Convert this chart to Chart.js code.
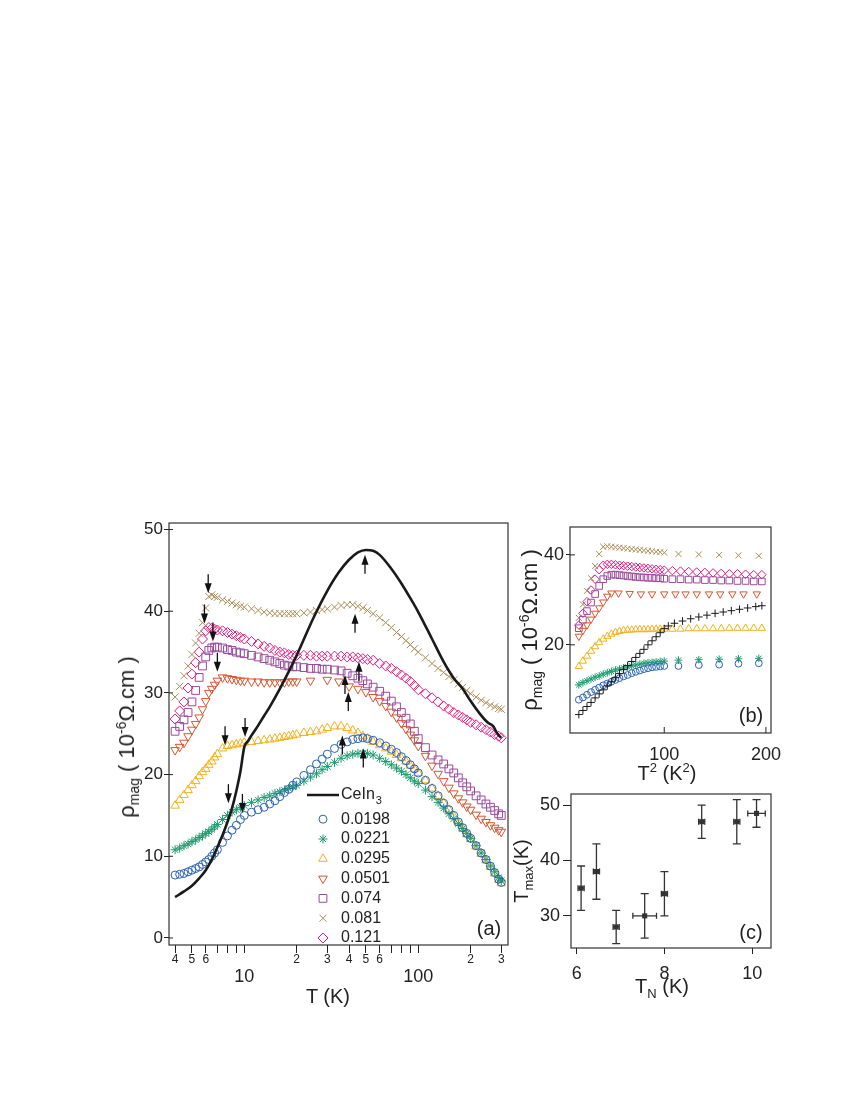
<!DOCTYPE html>
<html>
<head>
<meta charset="utf-8">
<script src="https://cdn.jsdelivr.net/npm/chart.js@4.4.1/dist/chart.umd.min.js"></script>
<style>
  body { margin: 0; width: 850px; height: 1100px; background: #fff; position: relative;
         font-family: "Liberation Sans", Arial, Helvetica, sans-serif; color: #222; }
  canvas { position: absolute; }
  .lbl { position: absolute; font-size: 20px; line-height: 1; white-space: nowrap; }
  .ctr { transform: translate(-50%, -50%); }
  .rot { transform: translate(-50%, -50%) rotate(-90deg); }
  sub, sup { font-size: 13px; line-height: 0; }
  .big { font-size: 22px; }
  .big sub, .big sup { font-size: 14px; }
</style>
</head>
<body>
<canvas id="chartA" width="430" height="520" style="left:90px;top:505px"></canvas>
<canvas id="chartB" width="262" height="255" style="left:520px;top:515px"></canvas>
<canvas id="chartC" width="262" height="230" style="left:520px;top:786px"></canvas>

<div class="lbl rot big" style="left:127px;top:737px">ρ<sub>mag</sub> ( 10<sup>-6</sup>Ω.cm )</div>
<div class="lbl ctr" style="left:328px;top:996px">T (K)</div>
<div class="lbl ctr" style="left:489px;top:928px">(a)</div>

<div class="lbl rot big" style="left:530px;top:630px">ρ<sub>mag</sub> ( 10<sup>-6</sup>Ω.cm )</div>
<div class="lbl ctr" style="left:667px;top:773px">T<sup>2</sup> (K<sup>2</sup>)</div>
<div class="lbl ctr" style="left:751px;top:715px">(b)</div>

<div class="lbl rot" style="left:521px;top:871px">T<sub>max</sub>(K)</div>
<div class="lbl ctr" style="left:662px;top:986px">T<sub>N</sub> (K)</div>
<div class="lbl ctr" style="left:751px;top:932px">(c)</div>

<script>
// ---- panel (a): rho_mag vs T (log axis) ----
const aT = [4, 4.25, 4.5, 4.75, 5, 5.25, 5.5, 5.75, 6, 6.25, 6.5, 6.75,
  7, 7.5, 8, 8.5, 9, 9.5, 10, 11, 12, 13, 14, 15, 16, 17, 18, 19, 20,
  22, 24, 26, 28, 30, 33, 36, 39, 42, 45, 48, 51,
  55, 60, 65, 70, 75, 80, 85, 90, 95, 100,
  110, 120, 130, 140, 150, 160, 170, 180, 190, 200,
  215, 230, 245, 260, 275, 290, 300];

const rho0198 = [7.7, 7.8, 7.9, 8.1, 8.3, 8.5, 8.7, 9.0, 9.3, 9.6, 10.0, 10.4,
  10.8, 11.7, 12.5, 13.2, 13.8, 14.5, 15.0, 15.4, 15.7, 16.0, 16.4, 16.8, 17.3, 17.8, 18.2, 18.7, 19.1,
  19.9, 20.6, 21.3, 21.9, 22.5, 23.2, 23.7, 24.0, 24.3, 24.4, 24.5, 24.4,
  24.2, 23.9, 23.5, 23.1, 22.7, 22.2, 21.7, 21.2, 20.7, 20.2,
  19.3, 18.3, 17.4, 16.5, 15.7, 15.0, 14.2, 13.5, 12.8, 12.2,
  11.3, 10.4, 9.6, 8.8, 8.0, 7.2, 6.8];

const rho0221 = [10.8, 11.0, 11.3, 11.5, 11.8, 12.0, 12.3, 12.5, 12.8, 13.0, 13.3, 13.6,
  13.9, 14.5, 15.0, 15.4, 15.7, 16.0, 16.2, 16.6, 16.9, 17.2, 17.4, 17.7, 17.9, 18.1, 18.3, 18.5, 18.7,
  19.2, 19.7, 20.1, 20.6, 21.0, 21.5, 22.0, 22.3, 22.5, 22.6, 22.6, 22.6,
  22.4, 22.0, 21.6, 21.2, 20.8, 20.4, 20.0, 19.6, 19.2, 18.9,
  18.1, 17.3, 16.6, 15.9, 15.2, 14.6, 14.0, 13.4, 12.8, 12.2,
  11.3, 10.4, 9.6, 8.8, 8.1, 7.4, 7.0];

const rho0295 = [16.2, 16.9, 17.5, 18.1, 18.7, 19.2, 19.8, 20.3, 20.7, 21.2, 21.6, 22.1,
  22.5, 23.2, 23.5, 23.6, 23.7, 23.8, 23.9, 24.0, 24.1, 24.2, 24.3, 24.4, 24.5, 24.6, 24.7, 24.8, 24.9,
  25.1, 25.2, 25.3, 25.5, 25.7, 25.9, 25.9, 25.7, 25.4, 25.1, 24.7, 24.4,
  24.0, 23.6, 23.2, 22.8, 22.4, 22.0, 21.6, 21.1, 20.7, 20.2,
  19.3, 18.3, 17.4, 16.5, 15.7, 14.9, 14.1, 13.4, 12.7, 12.1,
  11.2, 10.3, 9.5, 8.7, 7.9, 7.1, 6.7];

const tRed = [4, 4.25, 4.5, 4.75, 5, 5.25, 5.5, 5.75, 6, 6.25, 6.5, 6.75,
  7, 7.5, 8, 8.5, 9, 9.5, 10, 11, 12, 13, 14, 15, 16, 17, 18, 19, 20,
  24, 30, 35, 40, 45, 50,
  55, 60, 65, 70, 75, 80, 85, 90, 95, 100,
  110, 120, 130, 140, 150, 160, 170, 180, 190, 200,
  215, 230, 245, 260, 275, 290, 300];
const rho0501 = [23.0, 23.4, 23.9, 24.7, 25.5, 26.2, 27.0, 28.0, 29.0, 30.0, 30.5, 31.0,
  31.5, 31.9, 31.8, 31.7, 31.6, 31.5, 31.5, 31.4, 31.4, 31.3, 31.3, 31.3, 31.3, 31.3, 31.4, 31.4, 31.4,
  31.5, 31.6, 31.4, 30.8, 30.5, 30.1,
  29.5, 29.0, 28.4, 27.7, 27.0, 26.3, 25.6, 24.9, 24.2, 23.5,
  22.3, 21.1, 20.1, 19.2, 18.4, 17.7, 17.1, 16.6, 16.1, 15.7,
  15.1, 14.6, 14.2, 13.8, 13.5, 13.2, 13.0];

const rho074 = [25.3, 25.9, 26.7, 27.6, 28.9, 30.3, 31.9, 33.3, 34.4, 35.2, 35.5, 35.6,
  35.6, 35.5, 35.3, 35.2, 35.0, 34.9, 34.8, 34.6, 34.4, 34.2, 34.0, 33.8, 33.6, 33.4, 33.3, 33.2, 33.2,
  33.1, 33.0, 33.0, 32.9, 32.9, 32.8, 32.7, 32.4, 32.1, 31.8, 31.5, 31.1,
  30.7, 30.2, 29.6, 29.0, 28.3, 27.6, 26.9, 26.2, 25.3, 24.4,
  23.3, 22.4, 21.8, 21.3, 20.7, 20.2, 19.6, 19.0, 18.5, 18.0,
  17.4, 16.9, 16.4, 16.0, 15.6, 15.2, 15.0];

const rho081 = [29.5, 30.8, 32.1, 33.3, 34.7, 36.1, 37.3, 38.6, 40.4, 41.8, 42.0, 41.8,
  41.7, 41.4, 41.2, 41.0, 40.8, 40.6, 40.5, 40.3, 40.1, 39.9, 39.8, 39.7, 39.7, 39.7, 39.7, 39.7, 39.7,
  39.8, 39.9, 40.1, 40.2, 40.3, 40.5, 40.7, 40.8, 40.8, 40.6, 40.4, 40.1,
  39.7, 39.2, 38.6, 38.0, 37.4, 36.9, 36.4, 35.9, 35.4, 35.0,
  34.3, 33.6, 33.0, 32.5, 32.0, 31.6, 31.1, 30.7, 30.3, 29.9,
  29.5, 29.1, 28.8, 28.5, 28.3, 28.1, 28.0];

const rho121 = [26.8, 27.8, 28.9, 30.6, 32.3, 33.7, 35.0, 36.6, 37.6, 38.0, 37.9, 37.8,
  37.7, 37.6, 37.4, 37.2, 37.0, 36.8, 36.6, 36.3, 36.0, 35.7, 35.5, 35.2, 35.0, 34.9, 34.7, 34.6, 34.6,
  34.6, 34.6, 34.5, 34.5, 34.5, 34.5, 34.5, 34.4, 34.4, 34.3, 34.2, 34.1,
  34.0, 33.6, 33.3, 33.0, 32.6, 32.2, 31.8, 31.4, 30.9, 30.4,
  29.9, 29.4, 28.9, 28.4, 28.0, 27.6, 27.3, 27.0, 26.7, 26.4,
  26.1, 25.8, 25.5, 25.2, 24.9, 24.7, 24.5];

const tCeIn3 = [4, 4.5, 5, 5.5, 6, 6.5, 7, 7.5, 8, 8.5, 9, 9.5, 10, 10.5, 11, 12, 13, 14, 16, 18, 20,
  25, 30, 35, 40, 45, 50, 55, 60, 70, 80, 90, 100, 120, 140, 160, 180, 200, 225, 250, 270, 285, 300];
const rhoCeIn3 = [5.0, 5.7, 6.4, 7.3, 8.3, 9.6, 11.1, 12.6, 14.2, 15.9, 18.0, 20.4, 23.4, 24.1, 24.8, 26.0, 27.2, 28.3, 30.5, 32.6, 34.6,
  39.2, 42.5, 44.8, 46.3, 47.2, 47.5, 47.4, 46.9, 45.2, 43.4, 41.6, 39.9, 36.6, 33.8, 31.8, 30.5, 29.0, 27.5, 26.4, 25.9, 25.0, 24.5];

const legendNames = ['CeIn3', '0.0198', '0.0221', '0.0295', '0.0501', '0.074', '0.081', '0.121'];

// arrows: T_N (pointing down) and T_max (pointing up), tip positions in data units
const tnArrowT = [6.2, 5.9, 6.6, 7.0, 7.75, 10.1, 8.1, 9.75];
const tnArrowRho = [42.2, 38.5, 36.3, 32.6, 23.6, 24.6, 16.5, 15.3];
const tmaxArrowT = [49.4, 43.3, 45.6, 37.9, 39.6, 36.6, 48.3];
const tmaxArrowRho = [46.9, 39.7, 33.8, 32.2, 30.1, 24.8, 23.2];

const aXTicks = [4, 5, 6, 7, 8, 9, 10, 20, 30, 40, 50, 60, 70, 80, 90, 100, 200, 300];
const aXTickText = ['4', '5', '6', '', '', '', ['', '10'], '2', '3', '4', '5', '6', '', '', '', ['', '100'], '2', '3'];
const aYTicks = [0, 10, 20, 30, 40, 50];

// ---- panel (b): rho_mag vs T^2 ----
const bT2 = [16, 20, 24, 28, 32, 36, 40, 44, 48, 52, 56, 60, 64, 68, 72, 76, 80, 84, 88, 92, 96, 100];
const bT2Sparse = [114, 134, 154, 173, 193];
const bT2Tail = [108, 116, 124, 132, 140, 148, 156, 164, 172, 180, 188, 196];
const bT2Ce = [104, 110, 118, 126, 134, 142, 150, 158, 166, 174, 182, 190, 196];
const bT2Red = [16, 20, 24, 28, 32, 36, 40, 44, 48, 55, 66, 77, 88, 100, 111, 121, 132, 144, 155, 167, 178, 191];

const bCeIn3 = [4.5, 5.4, 6.3, 7.2, 8.2, 9.1, 10.0, 10.9, 11.8, 12.7, 13.6, 14.5, 15.4, 16.3, 17.2, 18.1, 19.0, 20.0, 20.9, 21.8, 22.7, 23.6,
  24.2, 24.8, 25.3, 25.8, 26.2, 26.6, 27.0, 27.3, 27.6, 27.9, 28.2, 28.5, 28.7];
const b0198 = [7.8, 8.3, 8.9, 9.5, 10.0, 10.5, 11.0, 11.4, 11.8, 12.2, 12.6, 13.0, 13.3, 13.7, 14.0, 14.3, 14.6, 14.8, 15.0, 15.1, 15.2, 15.3,
  15.3, 15.5, 15.6, 15.8, 15.9];
const b0221 = [11.1, 11.6, 12.0, 12.4, 12.8, 13.1, 13.5, 13.8, 14.1, 14.4, 14.6, 14.9, 15.1, 15.3, 15.5, 15.7, 15.9, 16.0, 16.1, 16.2, 16.3, 16.4,
  16.6, 16.7, 16.8, 16.9, 17.0];
const b0295 = [15.2, 16.4, 17.5, 18.6, 19.6, 20.5, 21.3, 21.9, 22.4, 22.8, 23.0, 23.2, 23.3, 23.3, 23.4, 23.4, 23.4, 23.4, 23.5, 23.5, 23.5, 23.5,
  23.5, 23.5, 23.6, 23.6, 23.6, 23.6, 23.6, 23.7, 23.7, 23.7, 23.7, 23.7];
const b0501 = [21.9, 23.2, 24.4, 25.7, 27.0, 28.2, 29.5, 30.8, 31.5,
  31.5, 31.4, 31.3, 31.3, 31.3, 31.3, 31.3, 31.3, 31.3, 31.3, 31.3, 31.3, 31.3];
const b074 = [23.7, 25.6, 27.5, 29.4, 31.3, 33.1, 34.6, 35.3, 35.6, 35.6, 35.5, 35.4, 35.3, 35.2, 35.1, 35.0, 35.0, 34.9, 34.9, 34.8, 34.8, 34.7,
  34.6, 34.6, 34.5, 34.5, 34.4, 34.4, 34.3, 34.3, 34.2, 34.2, 34.1, 34.1];
const b081 = [26.0, 29.0, 32.0, 34.8, 37.5, 40.2, 41.8, 41.9, 41.8, 41.7, 41.6, 41.5, 41.4, 41.3, 41.2, 41.1, 41.0, 40.9, 40.8, 40.7, 40.6, 40.5,
  40.2, 40.1, 40.0, 39.9, 39.8];
const b121 = [24.4, 27.0, 29.6, 32.2, 34.6, 36.7, 37.7, 37.9, 37.9, 37.8, 37.7, 37.6, 37.5, 37.4, 37.3, 37.2, 37.1, 37.0, 36.9, 36.8, 36.7, 36.6,
  36.5, 36.4, 36.3, 36.2, 36.1, 36.0, 35.9, 35.8, 35.8, 35.7, 35.6, 35.6];

const bXTicks = [100, 200];
const bYTicks = [20, 40];

// ---- panel (c): T_max vs T_N ----
const tN = [6.1, 6.45, 6.9, 7.55, 8.0, 8.85, 9.65, 10.1];
const tNErr = [0.07, 0.07, 0.07, 0.27, 0.07, 0.07, 0.07, 0.2];
const tMax = [35, 38, 28, 30, 34, 47, 47, 48.5];
const tMaxErr = [4, 5, 3, 4, 4, 3, 4, 2.5];
const cXTicks = [6, 8, 10];
const cYTicks = [30, 40, 50];

// ---- styles ----
const FONT = '"Liberation Sans", Arial, Helvetica, sans-serif';
const INK = '#222';
const styles = [
  { color: '#1a1a1a', style: 'line' },
  { color: '#2a62b3', style: 'circle', r: 4 },
  { color: '#1c9a6c', style: 'star', r: 4.5 },
  { color: '#f3b11e', style: 'triangle', r: 5 },
  { color: '#d8552e', style: 'triangle', r: 5, rot: 180 },
  { color: '#9b4a9d', style: 'rect', r: 5.5 },
  { color: '#a88c56', style: 'crossRot', r: 5 },
  { color: '#e51a80', style: 'rectRot', r: 5 }
];

const pts = (xs, ys) => xs.map((x, i) => ({ x: x, y: ys[i] }));

function markerSet(label, data, st, scale) {
  return {
    label: label, data: data, showLine: false,
    pointStyle: st.style, pointRotation: st.rot || 0,
    pointRadius: st.r * scale, pointBorderWidth: 1,
    pointBorderColor: st.color, pointBackgroundColor: 'rgba(0,0,0,0)',
    borderColor: st.color, backgroundColor: 'rgba(0,0,0,0)'
  };
}

// keep the plot area where it is: no extra room for overhanging tick labels
const fixX = h => s => { s.height = h; s.paddingLeft = 0; s.paddingRight = 0; };
const fixY = w => s => { s.width = w; s.paddingTop = 0; s.paddingBottom = 0; };

const framePlugin = {
  id: 'frame',
  afterDraw(chart) {
    const a = chart.chartArea, ctx = chart.ctx;
    ctx.save();
    ctx.strokeStyle = '#333';
    ctx.lineWidth = 1.2;
    ctx.strokeRect(a.left, a.top, a.right - a.left, a.bottom - a.top);
    ctx.restore();
  }
};

function innerTicks(xVals, xLen, yVals, yLen) {
  return {
    id: 'innerTicks',
    afterDraw(chart) {
      const { ctx, chartArea: a, scales } = chart;
      ctx.save();
      ctx.strokeStyle = INK;
      ctx.lineWidth = 1;
      ctx.beginPath();
      xVals.forEach(v => { const p = scales.x.getPixelForValue(v); ctx.moveTo(p, a.bottom); ctx.lineTo(p, a.bottom - xLen); });
      yVals.forEach(v => { const p = scales.y.getPixelForValue(v); ctx.moveTo(a.left, p); ctx.lineTo(a.left + yLen, p); });
      ctx.stroke();
      ctx.restore();
    }
  };
}

const arrowPlugin = {
  id: 'arrows',
  afterDatasetsDraw(chart) {
    const { ctx, scales } = chart;
    const draw = (t, v, dir) => {   // dir 1: pointing down, -1: pointing up
      const x = scales.x.getPixelForValue(t), tip = scales.y.getPixelForValue(v);
      ctx.beginPath();
      ctx.moveTo(x, tip - dir * 19);
      ctx.lineTo(x, tip - dir * 6);
      ctx.stroke();
      ctx.beginPath();
      ctx.moveTo(x, tip);
      ctx.lineTo(x - 3.5, tip - dir * 10);
      ctx.lineTo(x + 3.5, tip - dir * 10);
      ctx.closePath();
      ctx.fill();
    };
    ctx.save();
    ctx.strokeStyle = '#111';
    ctx.fillStyle = '#111';
    ctx.lineWidth = 1.3;
    tnArrowT.forEach((t, i) => draw(t, tnArrowRho[i], 1));
    tmaxArrowT.forEach((t, i) => draw(t, tmaxArrowRho[i], -1));
    ctx.restore();
  }
};

function drawMark(ctx, st, x, y) {
  const r = st.r;
  ctx.beginPath();
  if (st.style === 'circle') {
    ctx.arc(x, y, r, 0, Math.PI * 2);
  } else if (st.style === 'triangle') {
    const s = st.rot ? -1 : 1;
    ctx.moveTo(x, y - s * r);
    ctx.lineTo(x + r * 0.866, y + s * r * 0.5);
    ctx.lineTo(x - r * 0.866, y + s * r * 0.5);
    ctx.closePath();
  } else if (st.style === 'rect') {
    const h = r * 0.707;
    ctx.rect(x - h, y - h, 2 * h, 2 * h);
  } else if (st.style === 'rectRot') {
    ctx.moveTo(x, y - r); ctx.lineTo(x + r, y); ctx.lineTo(x, y + r); ctx.lineTo(x - r, y); ctx.closePath();
  } else if (st.style === 'crossRot' || st.style === 'star') {
    const h = r * 0.707;
    ctx.moveTo(x - h, y - h); ctx.lineTo(x + h, y + h);
    ctx.moveTo(x + h, y - h); ctx.lineTo(x - h, y + h);
    if (st.style === 'star') {
      ctx.moveTo(x - r, y); ctx.lineTo(x + r, y);
      ctx.moveTo(x, y - r); ctx.lineTo(x, y + r);
    }
  }
  ctx.stroke();
}

const legendPlugin = {
  id: 'legendA',
  afterDraw(chart) {
    const { ctx, chartArea: a } = chart;
    const markX = a.left + 154, textX = a.left + 172;
    ctx.save();
    ctx.textBaseline = 'middle';
    ctx.fillStyle = INK;
    legendNames.forEach((name, i) => {
      const y = i === 0 ? a.bottom - 150 : a.bottom - 7 - (7 - i) * 19.8;
      const st = styles[i];
      ctx.strokeStyle = st.color;
      if (st.style === 'line') {
        ctx.lineWidth = 2.5;
        ctx.beginPath(); ctx.moveTo(a.left + 138, y); ctx.lineTo(a.left + 170, y); ctx.stroke();
        ctx.font = '16px ' + FONT;
        ctx.fillText(name.slice(0, -1), textX, y);
        const w = ctx.measureText(name.slice(0, -1)).width;
        ctx.font = '11px ' + FONT;
        ctx.fillText(name.slice(-1), textX + w + 1, y + 6);
      } else {
        ctx.lineWidth = 1;
        drawMark(ctx, st, markX, y);
        ctx.font = '16px ' + FONT;
        ctx.fillText(name, textX, y);
      }
    });
    ctx.restore();
  }
};

const baseOpts = {
  responsive: false,
  animation: false,
  events: [],
  plugins: { legend: { display: false }, tooltip: { enabled: false } }
};

// ---- chart (a) ----
const seriesA = [[aT, rho0198], [aT, rho0221], [aT, rho0295], [tRed, rho0501], [aT, rho074], [aT, rho081], [aT, rho121]];
const dsA = [{
  label: legendNames[0], data: pts(tCeIn3, rhoCeIn3), showLine: true, pointRadius: 0,
  borderColor: styles[0].color, borderWidth: 2.6, cubicInterpolationMode: 'monotone'
}];
seriesA.forEach((s, i) => dsA.push(markerSet(legendNames[i + 1], pts(s[0], s[1]), styles[i + 1], 1)));

new Chart(document.getElementById('chartA'), {
  type: 'scatter',
  data: { datasets: dsA },
  options: Object.assign({}, baseOpts, {
    layout: { padding: { left: 0, top: 18, right: 12, bottom: 0 } },
    scales: {
      x: {
        type: 'logarithmic', min: 3.69, max: 328,
        border: { display: false },
        afterBuildTicks: s => { s.ticks = aXTicks.map(v => ({ value: v })); },
        afterFit: fixX(80),
        grid: { drawOnChartArea: false, tickLength: 8, color: INK },
        ticks: {
          autoSkip: false, maxRotation: 0, minRotation: 0, padding: 0, color: INK,
          font: c => Array.isArray(aXTickText[c.index])
            ? { family: FONT, size: 18, lineHeight: 0.9 }
            : { family: FONT, size: 12, lineHeight: 1.1 },
          callback: (v, i) => aXTickText[i]
        }
      },
      y: {
        min: -0.86, max: 50.8,
        border: { display: false },
        afterBuildTicks: s => { s.ticks = aYTicks.map(v => ({ value: v })); },
        afterFit: fixY(79),
        grid: { drawOnChartArea: false, tickLength: 5, color: INK },
        ticks: { padding: 1, color: INK, font: { family: FONT, size: 17 } }
      }
    }
  }),
  plugins: [framePlugin, innerTicks([], 0, aYTicks, 4), arrowPlugin, legendPlugin]
});

// ---- chart (b) ----
const seriesB = [
  [bT2.concat(bT2Ce), bCeIn3, { color: '#1a1a1a', style: 'cross', r: 4.5 }],
  [bT2.concat(bT2Sparse), b0198, styles[1]],
  [bT2.concat(bT2Sparse), b0221, styles[2]],
  [bT2.concat(bT2Tail), b0295, styles[3]],
  [bT2Red, b0501, styles[4]],
  [bT2.concat(bT2Tail), b074, styles[5]],
  [bT2.concat(bT2Sparse), b081, styles[6]],
  [bT2.concat(bT2Tail), b121, styles[7]]
];
const dsB = seriesB.map((s, i) => markerSet(legendNames[i], pts(s[0], s[1]), s[2], 0.85));

new Chart(document.getElementById('chartB'), {
  type: 'scatter',
  data: { datasets: dsB },
  options: Object.assign({}, baseOpts, {
    layout: { padding: { left: 0, top: 12, right: 11, bottom: 0 } },
    scales: {
      x: {
        min: 7.3, max: 205,
        border: { display: false },
        afterBuildTicks: s => { s.ticks = bXTicks.map(v => ({ value: v })); },
        afterFit: fixX(37),
        grid: { drawOnChartArea: false, drawTicks: false },
        ticks: { autoSkip: false, maxRotation: 0, padding: 11, color: INK, font: { family: FONT, size: 18 } }
      },
      y: {
        min: 0.4, max: 46.2,
        border: { display: false },
        afterBuildTicks: s => { s.ticks = bYTicks.map(v => ({ value: v })); },
        afterFit: fixY(50),
        grid: { drawOnChartArea: false, tickLength: 4, color: INK },
        ticks: { padding: 2, color: INK, font: { family: FONT, size: 18 } }
      }
    }
  }),
  plugins: [framePlugin, innerTicks(bXTicks, 6, bYTicks, 5)]
});

// ---- chart (c) ----
const errPlugin = {
  id: 'errbars',
  beforeDatasetsDraw(chart) {
    const { ctx, scales: { x, y } } = chart;
    ctx.save();
    ctx.strokeStyle = '#333';
    ctx.lineWidth = 1.3;
    tN.forEach((t, i) => {
      const px = x.getPixelForValue(t), py = y.getPixelForValue(tMax[i]);
      const y1 = y.getPixelForValue(tMax[i] - tMaxErr[i]), y2 = y.getPixelForValue(tMax[i] + tMaxErr[i]);
      const x1 = x.getPixelForValue(t - tNErr[i]), x2 = x.getPixelForValue(t + tNErr[i]);
      ctx.beginPath();
      ctx.moveTo(px, y1); ctx.lineTo(px, y2);
      ctx.moveTo(px - 4, y1); ctx.lineTo(px + 4, y1);
      ctx.moveTo(px - 4, y2); ctx.lineTo(px + 4, y2);
      ctx.moveTo(x1, py); ctx.lineTo(x2, py);
      ctx.moveTo(x1, py - 3); ctx.lineTo(x1, py + 3);
      ctx.moveTo(x2, py - 3); ctx.lineTo(x2, py + 3);
      ctx.stroke();
    });
    ctx.restore();
  }
};

new Chart(document.getElementById('chartC'), {
  type: 'scatter',
  data: {
    datasets: [{
      label: 'Tmax', data: pts(tN, tMax), pointStyle: 'rect', pointRadius: 3.6,
      pointBackgroundColor: '#333', pointBorderColor: '#333', pointBorderWidth: 0
    }]
  },
  options: Object.assign({}, baseOpts, {
    layout: { padding: { left: 0, top: 8, right: 11, bottom: 0 } },
    scales: {
      x: {
        min: 5.87, max: 10.43,
        border: { display: false },
        afterBuildTicks: s => { s.ticks = cXTicks.map(v => ({ value: v })); },
        afterFit: fixX(68),
        grid: { drawOnChartArea: false, tickLength: 6, color: INK },
        ticks: { autoSkip: false, maxRotation: 0, padding: 9, color: INK, font: { family: FONT, size: 18 } }
      },
      y: {
        min: 24.2, max: 52,
        border: { display: false },
        afterBuildTicks: s => { s.ticks = cYTicks.map(v => ({ value: v })); },
        afterFit: fixY(51),
        grid: { drawOnChartArea: false, tickLength: 8, color: INK },
        ticks: { padding: 3, color: INK, font: { family: FONT, size: 18 } }
      }
    }
  }),
  plugins: [framePlugin, errPlugin]
});
</script>
</body>
</html>
